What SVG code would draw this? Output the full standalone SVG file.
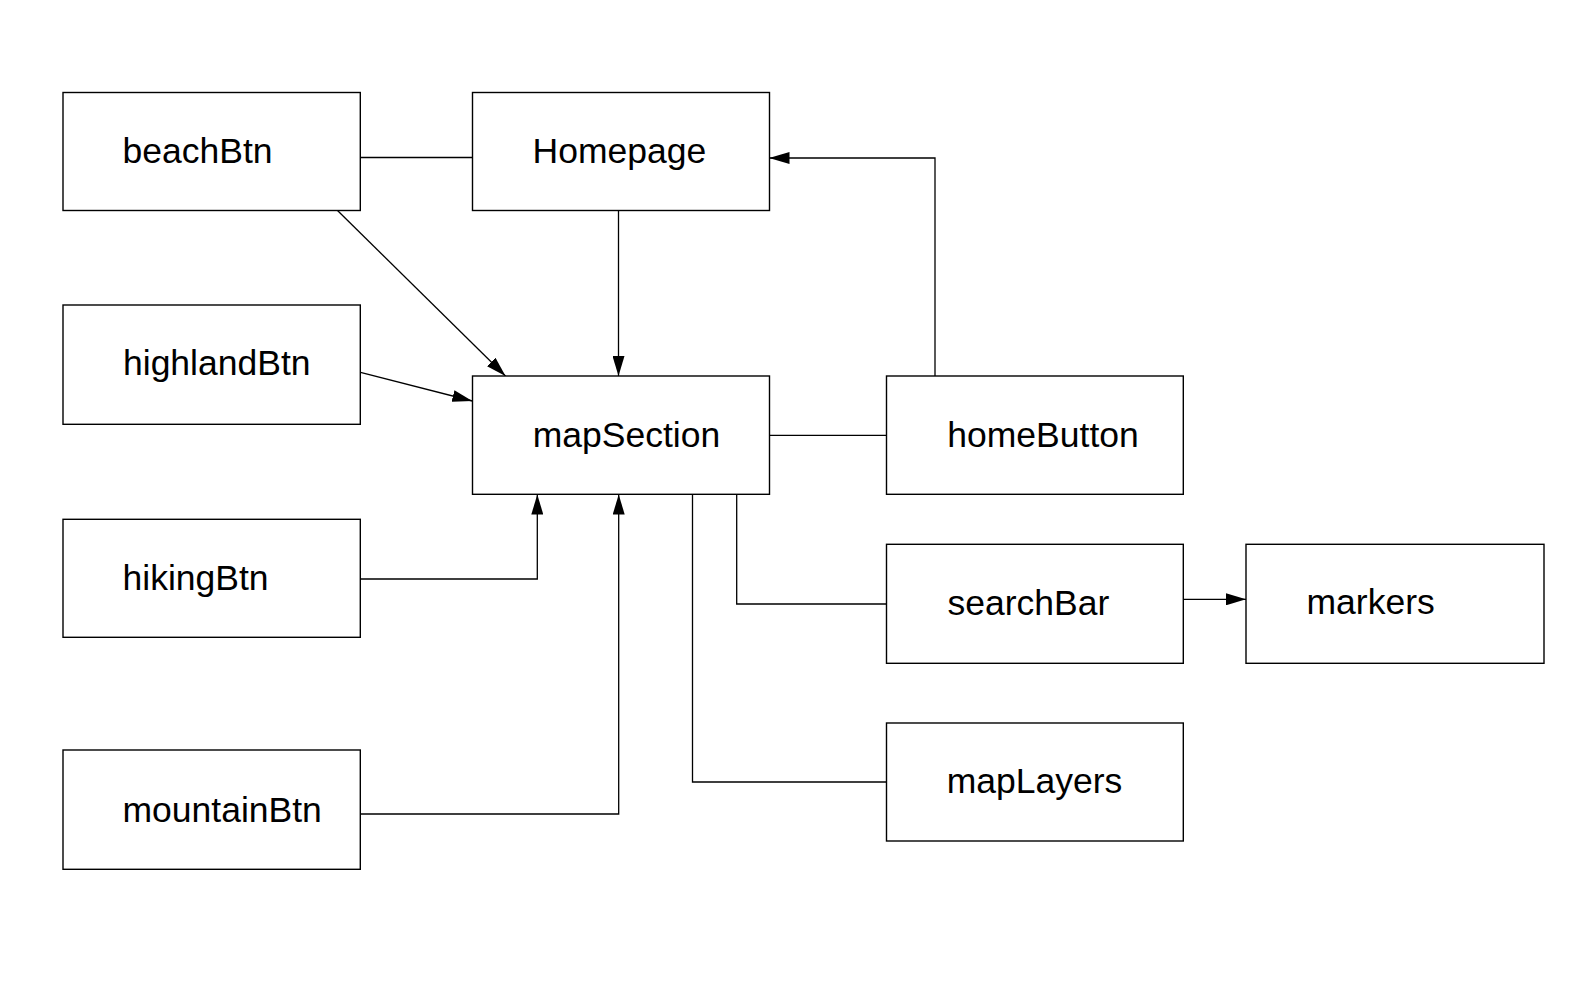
<svg xmlns="http://www.w3.org/2000/svg" width="1595" height="987" viewBox="0 0 1595 987">
<style>
.box{fill:#fff;stroke:#000;stroke-width:1.4}
.lbl{font-family:"Liberation Sans",Arial,sans-serif;font-size:35.5px;fill:#000}
.c{fill:none;stroke:#000;stroke-width:1.3}
</style>
<defs>
<marker id="arr" viewBox="0 0 20 12" refX="20" refY="6" markerWidth="20" markerHeight="12" markerUnits="userSpaceOnUse" orient="auto">
<path d="M0,0 L20,6 L0,12 z" fill="#000"/>
</marker>
</defs>
<rect width="1595" height="987" fill="#fff"/>
<g id="connectors">
<path class="c" d="M360,157.5 H472"/>
<path class="c" d="M337.5,210.5 L505.5,376" marker-end="url(#arr)"/>
<path class="c" d="M618.5,210.5 V376" marker-end="url(#arr)"/>
<path class="c" d="M935,376 V158 H769.5" marker-end="url(#arr)"/>
<path class="c" d="M360.5,372.3 L472.3,401" marker-end="url(#arr)"/>
<path class="c" d="M769.5,435.3 H886.5"/>
<path class="c" d="M360.5,579 H537.3 V494.5" marker-end="url(#arr)"/>
<path class="c" d="M360.5,814 H618.7 V494.5" marker-end="url(#arr)"/>
<path class="c" d="M736.7,494.5 V604 H886.5"/>
<path class="c" d="M692.5,494.5 V782 H886.5"/>
<path class="c" d="M1183.3,599.3 H1246" marker-end="url(#arr)"/>
</g>
<g id="beachBtn"><rect class="box" x="63" y="92.5" width="297.3" height="118"/><text class="lbl" x="122.5" y="163">beachBtn</text></g>
<g id="Homepage"><rect class="box" x="472.5" y="92.5" width="297" height="118"/><text class="lbl" x="532.5" y="163">Homepage</text></g>
<g id="highlandBtn"><rect class="box" x="63" y="305" width="297.3" height="119.3"/><text class="lbl" x="123" y="375">highlandBtn</text></g>
<g id="mapSection"><rect class="box" x="472.5" y="376" width="297" height="118.3"/><text class="lbl" x="532.7" y="447.3">mapSection</text></g>
<g id="homeButton"><rect class="box" x="886.5" y="376" width="296.8" height="118.3"/><text class="lbl" x="947.3" y="447.3">homeButton</text></g>
<g id="hikingBtn"><rect class="box" x="63" y="519.3" width="297.3" height="118"/><text class="lbl" x="122.5" y="590">hikingBtn</text></g>
<g id="searchBar"><rect class="box" x="886.5" y="544.3" width="296.8" height="119"/><text class="lbl" x="947.5" y="614.5">searchBar</text></g>
<g id="markers"><rect class="box" x="1246" y="544.3" width="298" height="119"/><text class="lbl" x="1306.5" y="613.5">markers</text></g>
<g id="mapLayers"><rect class="box" x="886.5" y="723" width="296.8" height="118"/><text class="lbl" x="946.7" y="793">mapLayers</text></g>
<g id="mountainBtn"><rect class="box" x="63" y="750" width="297.3" height="119.3"/><text class="lbl" x="122.5" y="821.5">mountainBtn</text></g>
</svg>
